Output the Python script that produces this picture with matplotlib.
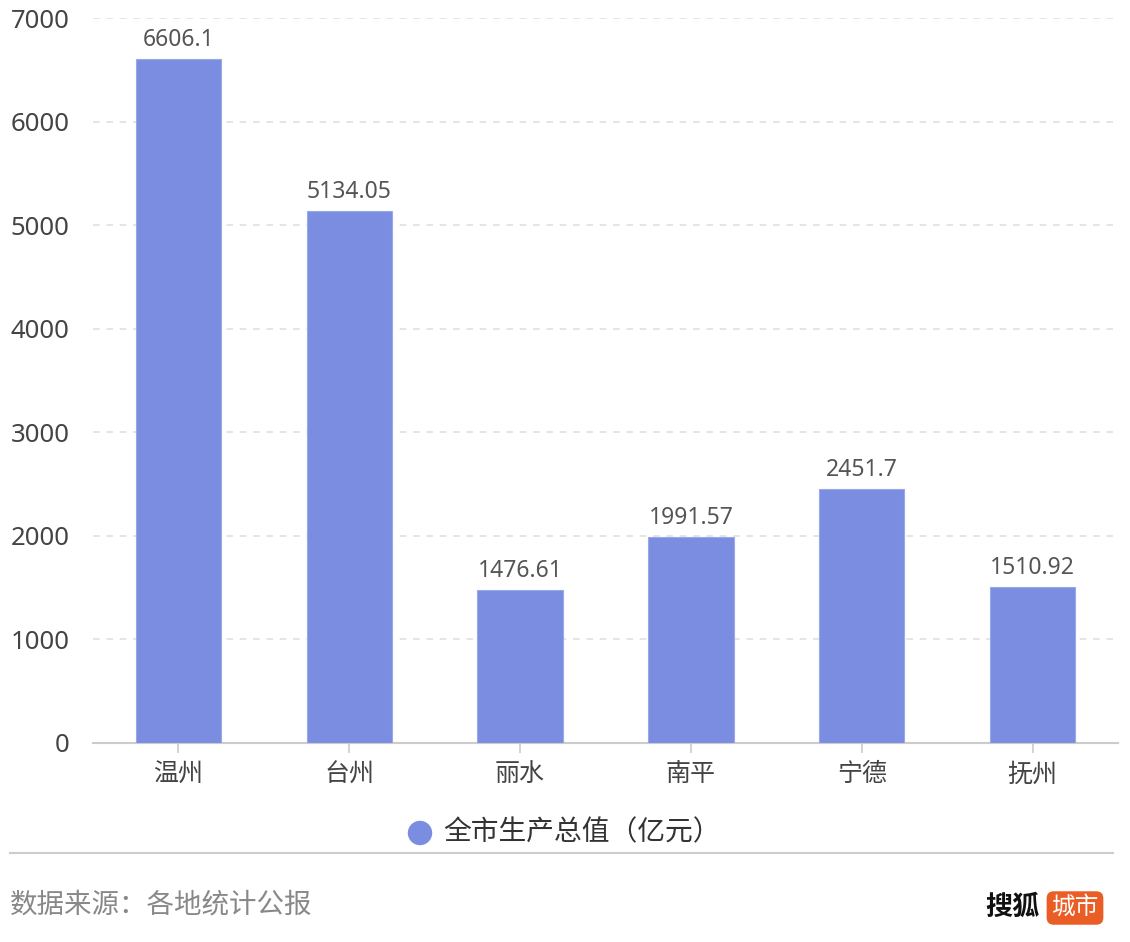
import matplotlib.pyplot as plt
import matplotlib.patches as mpatches
import numpy as np

plt.rcParams['font.family'] = ['Noto Sans', 'Noto Sans CJK SC', 'DejaVu Sans']

cities = ['温州', '台州', '丽水', '南平', '宁德', '抚州']
gdp = [6606.1, 5134.05, 1476.61, 1991.57, 2451.7, 1510.92]
labels = ['6606.1', '5134.05', '1476.61', '1991.57', '2451.7', '1510.92']
y_ticks = [0, 1000, 2000, 3000, 4000, 5000, 6000, 7000]

bar_color = '#7b8de0'

fig = plt.figure(figsize=(11.3, 9.42), dpi=100)
ax = fig.add_axes([93 / 1130, 1 - 743 / 942, 1025 / 1130, 725 / 942])

x = np.arange(len(cities))
ax.bar(x, gdp, width=0.5, color=bar_color, edgecolor='#9aa8ea', linewidth=0.8, zorder=3)

for xi, v, lab in zip(x, gdp, labels):
    ax.annotate(lab, (xi, v), xytext=(0, 5), textcoords='offset points',
                ha='center', va='bottom', fontsize=16.5, color='#555555')

ax.set_xlim(-0.5, len(cities) - 0.5)
ax.set_ylim(0, 7000)
ax.set_yticks(y_ticks)
ax.set_yticklabels([str(t) for t in y_ticks])
ax.set_xticks(x)
ax.set_xticklabels(cities, fontsize=18)

# 网格线
for t in y_ticks[1:]:
    ax.axhline(t, color='#e0e0e0', linestyle=(0, (4, 4)), linewidth=1.2, zorder=1)

for s in ['top', 'right', 'left']:
    ax.spines[s].set_visible(False)
ax.spines['bottom'].set_color('#cccccc')
ax.spines['bottom'].set_linewidth(1.5)

ax.tick_params(axis='y', length=0, pad=17, labelsize=18.5, labelcolor='#444444')
ax.tick_params(axis='x', length=7, width=1.2, color='#cccccc', pad=7,
               labelcolor='#444444')

# 图例
fig.patches.append(mpatches.Ellipse((420 / 1130, 1 - 833 / 942), 23 / 1130, 23 / 942,
                                    transform=fig.transFigure, color=bar_color))
fig.text(443 / 1130, 1 - 833 / 942, '全市生产总值（亿元）', fontsize=20,
         color='#333333', ha='left', va='center')

# 分隔线
fig.add_artist(plt.Line2D([10 / 1130, 1113 / 1130], [1 - 853 / 942, 1 - 853 / 942],
                          transform=fig.transFigure, color='#cccccc', linewidth=1.5))

fig.text(10 / 1130, 1 - 906 / 942, '数据来源：各地统计公报', fontsize=19.8,
         color='#888888', ha='left', va='center')

# 标志
fig.text(1040 / 1130, 1 - 908 / 942, '搜狐', fontsize=19.5, fontweight='bold',
         color='#111111', ha='right', va='center')
fig.text(1075 / 1130, 1 - 908 / 942, '城市', fontsize=17, color='white',
         ha='center', va='center',
         bbox=dict(boxstyle='round,pad=0.2,rounding_size=0.3', fc='#ea5d25', ec='none'))

fig.savefig('out.png', dpi=100)
